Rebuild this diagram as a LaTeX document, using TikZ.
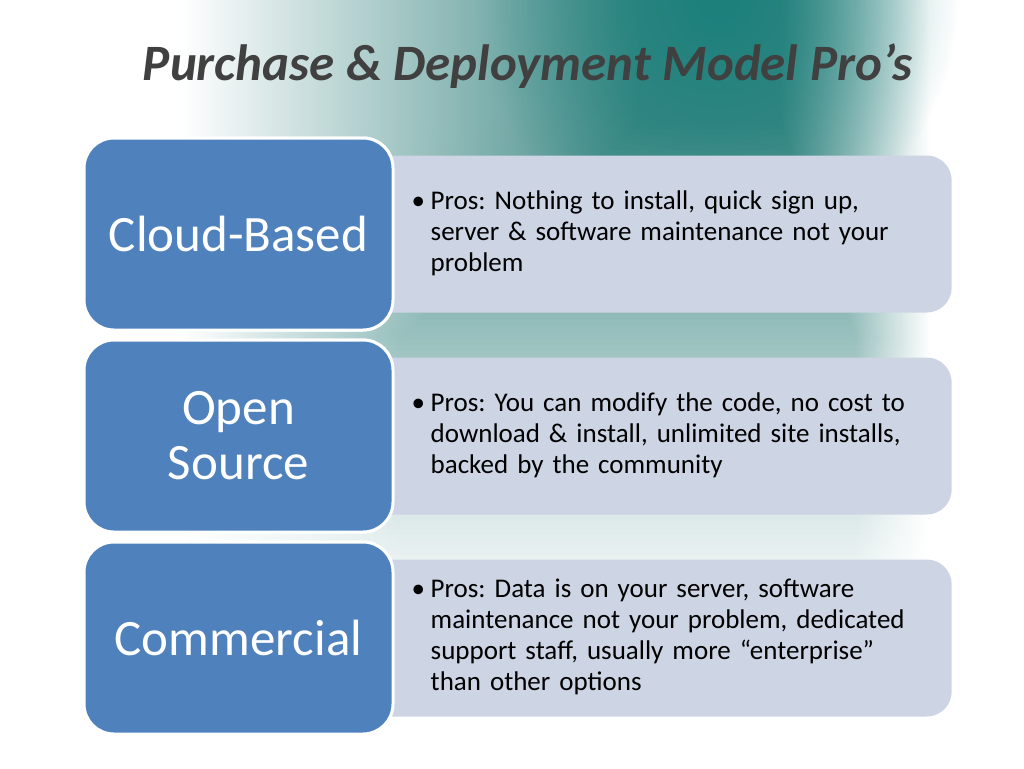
\documentclass[tikz,border=0pt]{standalone}
\usepackage{fontspec}
\setmainfont{Carlito}
\usetikzlibrary{positioning,fadings}

\definecolor{boxblue}{HTML}{4F81BD}
\definecolor{proslight}{HTML}{CDD4E4}
\definecolor{tealtop}{HTML}{137E79}
\definecolor{bandbase}{HTML}{3F8985}
\definecolor{titlegray}{HTML}{404040}

\tikzfading[name=tealglow, inner color=transparent!0, outer color=transparent!100]

\tikzset{
  modelbox/.style={draw=white, line width=3pt, fill=boxblue, rounded corners=30pt,
    minimum width=309pt, minimum height=192pt, text=white, align=center,
    font=\fontsize{51}{55}\selectfont},
  prosbox/.style={fill=proslight, rounded corners=25pt, minimum width=590pt,
    minimum height=157pt, text width=490pt, inner xsep=50pt, align=left,
    font=\fontsize{27}{31}\selectfont\frenchspacing},
}

\newcommand{\prositem}[1]{\makebox[19pt][l]{\textbullet}\begin{tabular}[t]{@{}l@{}}#1\end{tabular}}

\begin{document}
\begin{tikzpicture}[x=1pt, y=-1pt]
  \useasboundingbox (0,0) rectangle (1024,768);
  \fill[white] (0,0) rectangle (1024,768);
  \clip (0,0) rectangle (1024,768);
  % background band, row by row
  \foreach \y in {0,5,...,620}{
    \pgfmathsetmacro{\p}{max(0,min(100,max(100-(\y-120)*0.2186, 53-(\y-335)*0.19, 15-(\y-535)*0.1765)))}
    \pgfmathsetmacro{\lf}{25+min(640,max(400,640-(\y-120)*1.1163))/20.48}
    \pgfmathsetmacro{\rf}{25+min(855,max(780,780+(\y-120)*0.3488))/20.48}
    \colorlet{rowc}{bandbase!\p!white}
    \pgfdeclarehorizontalshading{row\y}{100bp}{color(0bp)=(white); color(33.8bp)=(white);
      color(\lf bp)=(rowc); color(\rf bp)=(rowc); color(70.4bp)=(white); color(100bp)=(white)}
    \shade[shading=row\y] (0,\y) rectangle (1024,\y+6);
  }
  \fill[tealtop, opacity=0.8, path fading=tealglow, fit fading=true] (718,0) ellipse (240 and 250);

  \node[font=\fontsize{51}{60}\selectfont\bfseries\itshape, text=titlegray] (title) at (528,66) {Purchase \& Deployment Model Pro’s};

  % the three models
  \node[modelbox] (cloud) at (238.5,234) {Cloud-Based};
  \node[modelbox, below=7pt of cloud] (open) {Open\\Source};
  \node[modelbox, below=7pt of open] (comm) {Commercial};

  \node[prosbox, right=-33pt of cloud] (cloudpros) {\prositem{Pros: Nothing to install, quick sign up,\\ server \& software maintenance not your\\ problem}};
  \node[prosbox, right=-33pt of open] (openpros) {\prositem{Pros: You can modify the code, no cost to\\ download \& install, unlimited site installs,\\ backed by the community}};
  \node[prosbox, right=-33pt of comm] (commpros) {\prositem{Pros: Data is on your server, software\\ maintenance not your problem, dedicated\\ support staff, usually more “enterprise”\\ than other options}};

  % blue boxes over the light ones
  \node[modelbox] at (cloud) {Cloud-Based};
  \node[modelbox] at (open) {Open\\Source};
  \node[modelbox] at (comm) {Commercial};
\end{tikzpicture}
\end{document}
